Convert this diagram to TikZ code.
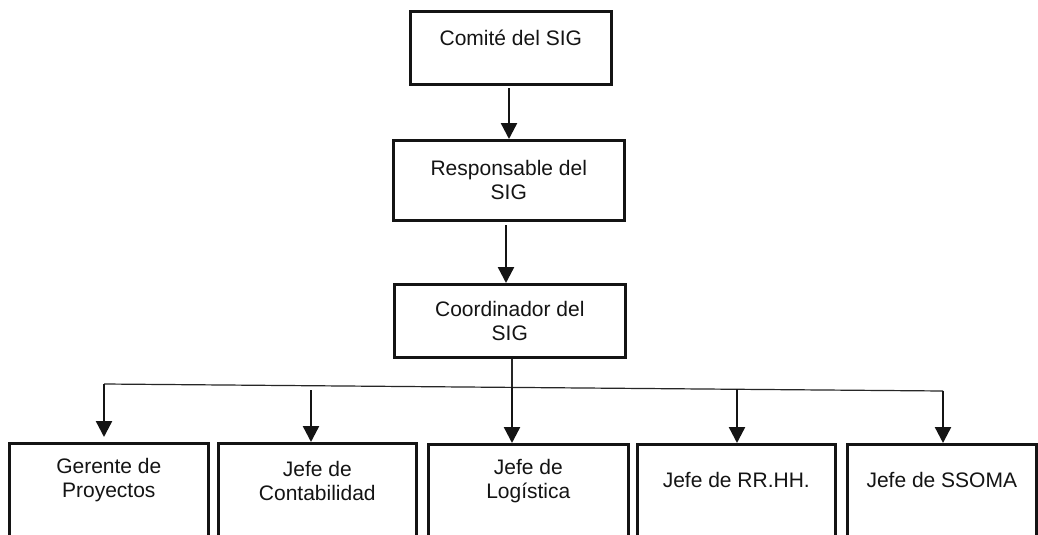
\documentclass[tikz,border=0pt]{standalone}
\usepackage{fontspec}
\setmainfont{Liberation Sans}
\usetikzlibrary{arrows.meta,calc}
\begin{document}
\begin{tikzpicture}[x=1pt,y=-1pt,
  box/.style={draw=black!92, line width=2.6pt, rectangle, inner sep=0pt, anchor=north west,
    font=\fontsize{21}{24}\selectfont, align=center, text=black!92},
  lbl/.style={font=\fontsize{21}{24}\selectfont, align=center, inner sep=0pt, text=black!92},
  arr/.style={line width=2.4pt, draw=black!92, -{Triangle[length=16pt,width=16pt]}},
  link/.style={line width=1.2pt, draw=black!85},
]
\useasboundingbox (0,0) rectangle (1038,535);
\clip (0,0) rectangle (1038,535);
\fill[white] (0,0) rectangle (1038,535);

% top chain
\node[box, minimum width=201pt, minimum height=73pt] (c1) at (409,10) {};
\node[lbl] (c1t) at ([yshift=-28pt]c1.north) {Comit\'e del SIG};
\node[box, minimum width=231pt, minimum height=80pt] (c2) at (392,139) {Responsable del\\SIG};
\node[box, minimum width=231pt, minimum height=73pt] (c3) at (393,283) {Coordinador del\\SIG};

% bottom row
\node[box, minimum width=199pt, minimum height=130pt] (g) at (8,442) {};
\node[box, minimum width=198pt, minimum height=130pt] (cb) at (217,442) {};
\node[box, minimum width=200pt, minimum height=130pt] (lg) at (427,443) {};
\node[box, minimum width=198pt, minimum height=130pt] (rh) at (636,443) {};
\node[box, minimum width=189pt, minimum height=130pt] (ss) at (846,443) {};

\node[lbl] (gt) at ([yshift=-38.5pt]g.north) {Gerente de\\Proyectos};
\node[lbl] (cbt) at ([yshift=-38.5pt]cb.north) {Jefe de\\Contabilidad};
\node[lbl] (lgt) at ([yshift=-38.5pt]lg.north) {Jefe de\\Log\'istica};
\node[lbl] (rht) at ([yshift=-37pt]rh.north) {Jefe de RR.HH.};
\node[lbl] (sst) at ([yshift=-37pt]ss.north) {Jefe de SSOMA};

% connectors
\coordinate (a1s) at (509,88);
\coordinate (a2s) at (506,225);
\draw[arr] (a1s) -- (a1s |- c2.north);
\draw[arr] (a2s) -- (a2s |- c3.north);

\coordinate (hl) at (104,384);
\coordinate (hr) at (943,391);
\coordinate (j) at (512,387.4);
\coordinate (k2) at (311,390);
\coordinate (k4) at (737,389.3);

\draw[link] (j |- c3.south) -- (j);
\draw[link] (hl) -- (hr);

\draw[arr, shorten >=5pt] (hl) -- (hl |- g.north);
\draw[arr] (k2) -- (k2 |- cb.north);
\draw[arr] (j) -- (j |- lg.north);
\draw[arr] (k4) -- (k4 |- rh.north);
\draw[arr] (hr) -- (hr |- ss.north);
\end{tikzpicture}
\end{document}
